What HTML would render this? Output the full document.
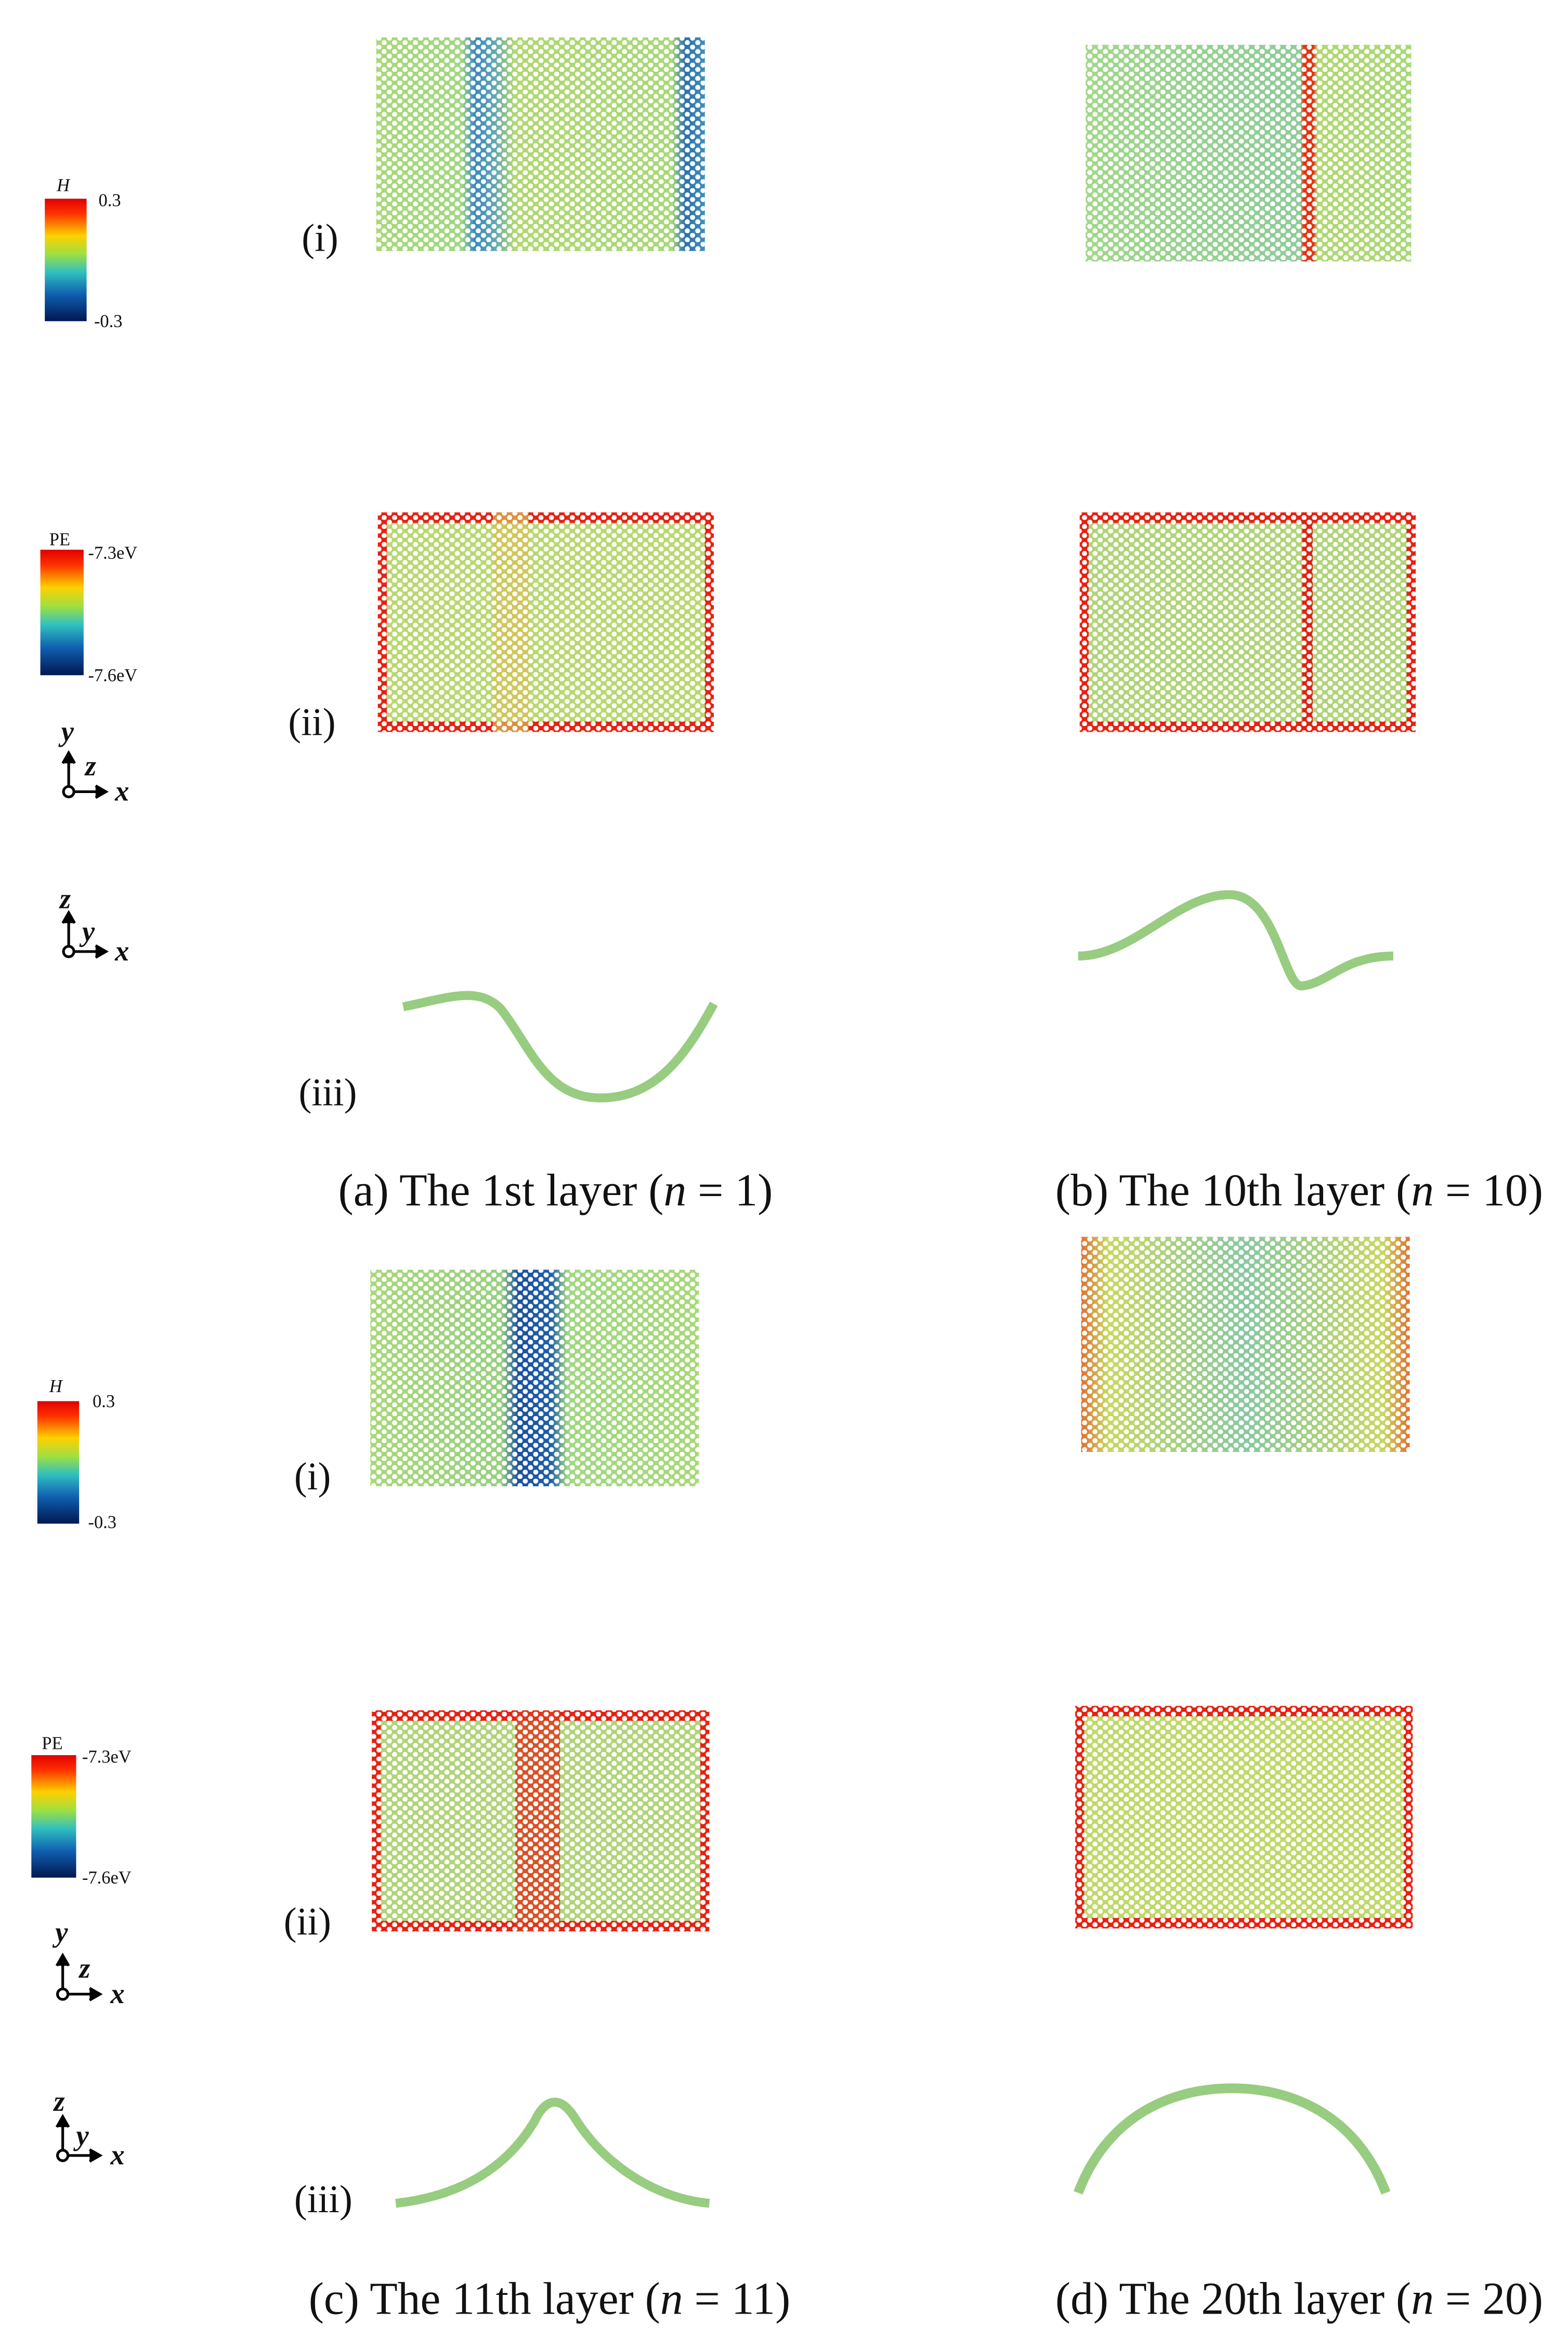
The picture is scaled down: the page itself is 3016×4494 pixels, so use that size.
<!DOCTYPE html>
<html><head><meta charset="utf-8">
<style>
html,body{margin:0;padding:0;background:#fff;}
svg{display:block;}
text{font-family:"Liberation Serif",serif;fill:#111;}
</style></head>
<body>
<svg width="3016" height="4494" viewBox="0 0 1050 1564.5" xmlns="http://www.w3.org/2000/svg">
<defs>
  <pattern id="hex" width="7" height="6" patternUnits="userSpaceOnUse">
    <circle cx="1.75" cy="1.5" r="1.7" fill="#fff"/>
    <circle cx="5.25" cy="4.5" r="1.7" fill="#fff"/>
  </pattern>
  <linearGradient id="jet" x1="0" y1="0" x2="0" y2="1">
    <stop offset="0" stop-color="#e00000"/><stop offset="0.12" stop-color="#ff3000"/>
    <stop offset="0.3" stop-color="#ffd000"/><stop offset="0.45" stop-color="#a0e040"/>
    <stop offset="0.6" stop-color="#30c0c0"/><stop offset="0.78" stop-color="#1060b0"/>
    <stop offset="1" stop-color="#001850"/>
  </linearGradient>
  <linearGradient id="ga1" x1="0" x2="1">
    <stop offset="0" stop-color="#a8d878"/><stop offset="0.26" stop-color="#a0d880"/>
    <stop offset="0.3" stop-color="#3a88c0"/><stop offset="0.36" stop-color="#60a8b0"/>
    <stop offset="0.42" stop-color="#b0d870"/><stop offset="0.9" stop-color="#a8d878"/>
    <stop offset="0.94" stop-color="#2a70b0"/><stop offset="1" stop-color="#4090b8"/>
  </linearGradient>
  <linearGradient id="gb1" x1="0" x2="1">
    <stop offset="0" stop-color="#a0d888"/><stop offset="0.6" stop-color="#90cc98"/>
    <stop offset="0.66" stop-color="#90cc98"/><stop offset="0.67" stop-color="#e83010"/>
    <stop offset="0.7" stop-color="#e83010"/><stop offset="0.71" stop-color="#b0d870"/>
    <stop offset="1" stop-color="#a8d878"/>
  </linearGradient>
  <linearGradient id="gc1" x1="0" x2="1">
    <stop offset="0" stop-color="#a8d878"/><stop offset="0.4" stop-color="#98d080"/>
    <stop offset="0.45" stop-color="#1a50a0"/><stop offset="0.55" stop-color="#2060a8"/>
    <stop offset="0.6" stop-color="#a0d880"/><stop offset="1" stop-color="#a8d878"/>
  </linearGradient>
  <linearGradient id="gd1" x1="0" x2="1">
    <stop offset="0" stop-color="#e07030"/><stop offset="0.08" stop-color="#c8d860"/>
    <stop offset="0.5" stop-color="#88c8a0"/><stop offset="0.92" stop-color="#c8d860"/>
    <stop offset="1" stop-color="#e07030"/>
  </linearGradient>
</defs>

<!-- Panel a -->
<g>
  <rect x="252" y="25" width="220" height="143" fill="url(#ga1)"/>
  <rect x="252" y="25" width="220" height="143" fill="url(#hex)"/>
  <text x="202" y="168" font-size="26">(i)</text>
  <rect x="30" y="133" width="28" height="82" fill="url(#jet)"/>
  <text x="38" y="128" font-size="12" font-style="italic">H</text>
  <text x="66" y="138" font-size="12">0.3</text>
  <text x="63" y="219" font-size="12">-0.3</text>

  <rect x="253" y="343" width="225" height="147" fill="#e82010"/>
  <rect x="259" y="350" width="213" height="133" fill="#b8d870"/>
  <rect x="330" y="343" width="24" height="147" fill="#d8c050" opacity="0.7"/>
  <rect x="253" y="343" width="225" height="147" fill="url(#hex)"/>
  <text x="193" y="492" font-size="26">(ii)</text>
  <rect x="27" y="368" width="29" height="84" fill="url(#jet)"/>
  <text x="33" y="365" font-size="12">PE</text>
  <text x="59" y="374" font-size="12">-7.3eV</text>
  <text x="59" y="456" font-size="12">-7.6eV</text>

  <g stroke="#000" stroke-width="1.8" fill="none">
    <line x1="46" y1="530" x2="46" y2="507"/><polyline points="42,511 46,504 50,511" fill="#000"/>
    <line x1="46" y1="530" x2="68" y2="530"/><polyline points="64,526 71,530 64,534" fill="#000"/>
    <circle cx="46" cy="530" r="3.5" fill="#fff"/>
  </g>
  <text x="41" y="496" font-size="19" font-weight="bold" font-style="italic">y</text>
  <text x="57" y="519" font-size="19" font-weight="bold" font-style="italic">z</text>
  <text x="77" y="536" font-size="19" font-weight="bold" font-style="italic">x</text>

  <g stroke="#000" stroke-width="1.8" fill="none">
    <line x1="46" y1="637" x2="46" y2="614"/><polyline points="42,618 46,611 50,618" fill="#000"/>
    <line x1="46" y1="637" x2="68" y2="637"/><polyline points="64,633 71,637 64,641" fill="#000"/>
    <circle cx="46" cy="637" r="3.5" fill="#fff"/>
  </g>
  <text x="40" y="608" font-size="19" font-weight="bold" font-style="italic">z</text>
  <text x="55" y="630" font-size="19" font-weight="bold" font-style="italic">y</text>
  <text x="77" y="643" font-size="19" font-weight="bold" font-style="italic">x</text>

  <path d="M270,674 C300,668 320,660 335,675 C355,700 365,735 402,735 C440,735 460,705 478,672" fill="none" stroke="#98cc80" stroke-width="6"/>
  <text x="200" y="740" font-size="26">(iii)</text>
  <text x="372" y="807" font-size="30.5" text-anchor="middle">(a) The 1st layer (<tspan font-style="italic">n</tspan> = 1)</text>
</g>

<!-- Panel b -->
<g>
  <rect x="727" y="30" width="218" height="145" fill="url(#gb1)"/>
  <rect x="727" y="30" width="218" height="145" fill="url(#hex)"/>
  <rect x="723" y="343" width="225" height="147" fill="#e82010"/>
  <rect x="729" y="350" width="213" height="133" fill="#b0d478"/>
  <rect x="872" y="343" width="7" height="147" fill="#e02010"/>
  <rect x="723" y="343" width="225" height="147" fill="url(#hex)"/>
  <path d="M722,640 C760,640 790,597 825,599 C855,601 860,662 872,660 C890,658 900,640 933,640" fill="none" stroke="#98cc80" stroke-width="6"/>
  <text x="870" y="807" font-size="30.5" text-anchor="middle">(b) The 10th layer (<tspan font-style="italic">n</tspan> = 10)</text>
</g>

<!-- Panel c -->
<g>
  <rect x="248" y="850" width="220" height="145" fill="url(#gc1)"/>
  <rect x="248" y="850" width="220" height="145" fill="url(#hex)"/>
  <text x="197" y="997" font-size="26">(i)</text>
  <rect x="25" y="938" width="28" height="82" fill="url(#jet)"/>
  <text x="33" y="932" font-size="12" font-style="italic">H</text>
  <text x="62" y="942" font-size="12">0.3</text>
  <text x="59" y="1023" font-size="12">-0.3</text>

  <rect x="249" y="1145" width="226" height="148" fill="#e82010"/>
  <rect x="255" y="1152" width="214" height="134" fill="#b0d478"/>
  <rect x="345" y="1145" width="30" height="148" fill="#e03a18" opacity="0.85"/>
  <rect x="249" y="1145" width="226" height="148" fill="url(#hex)"/>
  <text x="190" y="1295" font-size="26">(ii)</text>
  <rect x="21" y="1175" width="30" height="82" fill="url(#jet)"/>
  <text x="28" y="1171" font-size="12">PE</text>
  <text x="55" y="1180" font-size="12">-7.3eV</text>
  <text x="55" y="1261" font-size="12">-7.6eV</text>

  <g stroke="#000" stroke-width="1.8" fill="none">
    <line x1="42" y1="1335" x2="42" y2="1312"/><polyline points="38,1316 42,1309 46,1316" fill="#000"/>
    <line x1="42" y1="1335" x2="64" y2="1335"/><polyline points="60,1331 67,1335 60,1339" fill="#000"/>
    <circle cx="42" cy="1335" r="3.5" fill="#fff"/>
  </g>
  <text x="37" y="1300" font-size="19" font-weight="bold" font-style="italic">y</text>
  <text x="53" y="1324" font-size="19" font-weight="bold" font-style="italic">z</text>
  <text x="74" y="1341" font-size="19" font-weight="bold" font-style="italic">x</text>

  <g stroke="#000" stroke-width="1.8" fill="none">
    <line x1="42" y1="1443" x2="42" y2="1420"/><polyline points="38,1424 42,1417 46,1424" fill="#000"/>
    <line x1="42" y1="1443" x2="64" y2="1443"/><polyline points="60,1439 67,1443 60,1447" fill="#000"/>
    <circle cx="42" cy="1443" r="3.5" fill="#fff"/>
  </g>
  <text x="36" y="1413" font-size="19" font-weight="bold" font-style="italic">z</text>
  <text x="51" y="1436" font-size="19" font-weight="bold" font-style="italic">y</text>
  <text x="74" y="1449" font-size="19" font-weight="bold" font-style="italic">x</text>

  <path d="M265,1475 C310,1470 340,1450 358,1420 C365,1405 375,1402 385,1418 C405,1450 440,1472 475,1475" fill="none" stroke="#98cc80" stroke-width="6"/>
  <text x="197" y="1481" font-size="26">(iii)</text>
  <text x="368" y="1549" font-size="30.5" text-anchor="middle">(c) The 11th layer (<tspan font-style="italic">n</tspan> = 11)</text>
</g>

<!-- Panel d -->
<g>
  <rect x="724" y="828" width="220" height="144" fill="url(#gd1)"/>
  <rect x="724" y="828" width="220" height="144" fill="url(#hex)"/>
  <rect x="720" y="1142" width="226" height="149" fill="#e82010"/>
  <rect x="726" y="1149" width="214" height="135" fill="#c0d868"/>
  <rect x="720" y="1142" width="226" height="149" fill="url(#hex)"/>
  <path d="M722,1468 C740,1420 780,1398 825,1398 C870,1398 910,1420 928,1468" fill="none" stroke="#98cc80" stroke-width="6.5"/>
  <text x="870" y="1549" font-size="30.5" text-anchor="middle">(d) The 20th layer (<tspan font-style="italic">n</tspan> = 20)</text>
</g>
</svg>
</body></html>
